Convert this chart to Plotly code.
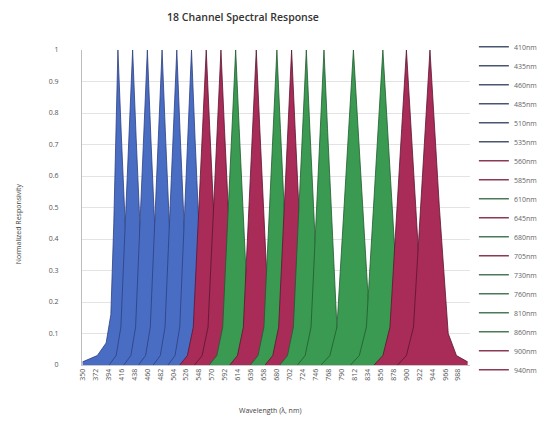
import plotly.graph_objects as go

# Channel names and colour groups
channels = [410, 435, 460, 485, 510, 535, 560, 585, 610, 645, 680, 705, 730, 760, 810, 860, 900, 940]
groups = ["B", "B", "B", "B", "B", "B", "R", "R", "G", "R", "G", "R", "G", "G", "G", "G", "R", "R"]

# Wavelength (nm) / normalized responsivity, one pair per channel
x410 = [350, 375, 390, 398, 403, 410, 416, 422, 430, 440, 452]
y410 = [0.01, 0.03, 0.07, 0.16, 0.45, 1.0, 0.72, 0.46, 0.12, 0.03, 0]
x435 = [395, 407, 415, 423, 429, 435, 441, 447, 455, 463, 475]
y435 = [0, 0.03, 0.12, 0.46, 0.72, 1.0, 0.72, 0.46, 0.12, 0.03, 0]
x460 = [420, 432, 440, 448, 454, 460, 466, 472, 480, 488, 500]
y460 = [0, 0.03, 0.12, 0.46, 0.72, 1.0, 0.72, 0.46, 0.12, 0.03, 0]
x485 = [445, 457, 465, 473, 479, 485, 491, 497, 505, 513, 525]
y485 = [0, 0.03, 0.12, 0.46, 0.72, 1.0, 0.72, 0.46, 0.12, 0.03, 0]
x510 = [470, 482, 490, 498, 504, 510, 516, 522, 530, 538, 550]
y510 = [0, 0.03, 0.12, 0.46, 0.72, 1.0, 0.72, 0.46, 0.12, 0.03, 0]
x535 = [495, 507, 515, 523, 529, 535, 541, 547, 555, 563, 575]
y535 = [0, 0.03, 0.12, 0.46, 0.72, 1.0, 0.72, 0.46, 0.12, 0.03, 0]
x560 = [515, 528, 538, 547, 554, 560, 566, 573, 582, 592, 605]
y560 = [0, 0.03, 0.12, 0.47, 0.75, 1.0, 0.75, 0.47, 0.12, 0.03, 0]
x585 = [540, 553, 563, 572, 579, 585, 591, 598, 607, 617, 630]
y585 = [0, 0.03, 0.12, 0.47, 0.75, 1.0, 0.75, 0.47, 0.12, 0.03, 0]
x610 = [565, 578, 588, 597, 604, 610, 616, 623, 632, 642, 655]
y610 = [0, 0.03, 0.12, 0.47, 0.75, 1.0, 0.75, 0.47, 0.12, 0.03, 0]
x645 = [600, 613, 623, 632, 639, 645, 651, 658, 667, 677, 690]
y645 = [0, 0.03, 0.12, 0.47, 0.75, 1.0, 0.75, 0.47, 0.12, 0.03, 0]
x680 = [635, 648, 658, 667, 674, 680, 686, 693, 702, 712, 725]
y680 = [0, 0.03, 0.12, 0.47, 0.75, 1.0, 0.75, 0.47, 0.12, 0.03, 0]
x705 = [660, 673, 683, 692, 699, 705, 711, 718, 727, 737, 750]
y705 = [0, 0.03, 0.12, 0.47, 0.75, 1.0, 0.75, 0.47, 0.12, 0.03, 0]
x730 = [685, 698, 708, 717, 724, 730, 736, 743, 752, 762, 775]
y730 = [0, 0.03, 0.12, 0.47, 0.75, 1.0, 0.75, 0.47, 0.12, 0.03, 0]
x760 = [715, 728, 738, 747, 754, 760, 766, 773, 782, 792, 805]
y760 = [0, 0.03, 0.12, 0.47, 0.75, 1.0, 0.75, 0.47, 0.12, 0.03, 0]
x810 = [755, 770, 782, 794, 802, 810, 818, 826, 838, 850, 865]
y810 = [0, 0.03, 0.12, 0.48, 0.75, 1.0, 0.75, 0.48, 0.12, 0.03, 0]
x860 = [805, 820, 832, 844, 852, 860, 868, 876, 888, 900, 915]
y860 = [0, 0.03, 0.12, 0.48, 0.75, 1.0, 0.75, 0.48, 0.12, 0.03, 0]
x900 = [845, 860, 872, 884, 892, 900, 908, 916, 928, 940, 955]
y900 = [0, 0.03, 0.12, 0.48, 0.75, 1.0, 0.75, 0.48, 0.12, 0.03, 0]
x940 = [885, 900, 912, 924, 932, 940, 948, 956, 971, 985, 1004]
y940 = [0, 0.03, 0.12, 0.48, 0.75, 1.0, 0.75, 0.50, 0.10, 0.03, 0.01]

curves_x = [x410, x435, x460, x485, x510, x535, x560, x585, x610, x645, x680, x705, x730, x760, x810, x860, x900, x940]
curves_y = [y410, y435, y460, y485, y510, y535, y560, y585, y610, y645, y680, y705, y730, y760, y810, y860, y900, y940]

# Axis tick labels
xtick_vals = [350, 372, 394, 416, 438, 460, 482, 504, 526, 548, 570, 592, 614, 636, 658,
              680, 702, 724, 746, 768, 790, 812, 834, 856, 878, 900, 922, 944, 966, 988]
ytick_vals = [0, 0.1, 0.2, 0.3, 0.4, 0.5, 0.6, 0.7, 0.8, 0.9, 1]

# Styles
fill_col = {"B": "#4a6dc4", "R": "#a82b58", "G": "#3b9a52"}
line_col = {"B": "#2c3f80", "R": "#5a1530", "G": "#1f5a2f"}
legend_col = {"B": "#4a5670", "R": "#8a3a55", "G": "#4a7a5a"}

fig = go.Figure()
for ch, g, xs, ys in zip(channels, groups, curves_x, curves_y):
    fig.add_trace(go.Scatter(
        x=xs, y=ys, mode="lines", fill="tozeroy",
        fillcolor=fill_col[g], line=dict(color=line_col[g], width=0.8),
        showlegend=False, hoverinfo="x+y", name=f"{ch}nm"))

for ch, g in zip(channels, groups):
    fig.add_trace(go.Scatter(
        x=[None], y=[None], mode="lines", name=f"{ch}nm",
        line=dict(color=legend_col[g], width=1.5), legendgroup=str(ch)))

font_fam = "Open Sans, Lato, sans-serif"
fig.update_layout(
    width=542, height=422,
    margin=dict(l=74, r=80, t=42, b=65, autoexpand=False),
    paper_bgcolor="white", plot_bgcolor="white",
    font=dict(family=font_fam, color="#555", size=7),
    title=dict(text="18 Channel Spectral Response", x=0.4336, xanchor="center",
               y=0.979, yanchor="middle",
               font=dict(size=10.5, color="#333", family=font_fam, weight=600)),
    legend=dict(x=1.01, xanchor="left", y=1.056, yanchor="top",
                font=dict(size=7, color="#666"), tracegroupgap=0,
                itemwidth=30, bgcolor="rgba(0,0,0,0)", maxheight=420),
    xaxis=dict(range=[349, 1008], tickmode="array", tickvals=xtick_vals,
               ticktext=[str(v) for v in xtick_vals], tickangle=-90,
               showgrid=False, zeroline=False, showline=True, linecolor="#c8c8c8",
               linewidth=1, ticks="", tickfont=dict(size=7, color="#555")),
    yaxis=dict(range=[0, 1.0], tickmode="array", tickvals=ytick_vals,
               ticktext=["0", "0.1", "0.2", "0.3", "0.4", "0.5", "0.6", "0.7", "0.8", "0.9", "1"],
               showgrid=True, gridcolor="#e3e3e3", gridwidth=1, zeroline=False,
               showline=True, linecolor="#bdbdbd", linewidth=1, ticks="",
               ticklabelstandoff=21, tickfont=dict(size=7, color="#555")),
    annotations=[
        dict(text="Wavelength (λ, nm)", xref="paper", yref="paper", x=0.485, y=-0.143,
             xanchor="center", yanchor="middle", showarrow=False,
             font=dict(size=7, color="#444")),
        dict(text="Normalized Responsivity", xref="paper", yref="paper", x=-0.165, y=0.45,
             xanchor="center", yanchor="middle", textangle=-90, showarrow=False,
             font=dict(size=7, color="#444")),
    ],
)

fig.write_html("out.html")
